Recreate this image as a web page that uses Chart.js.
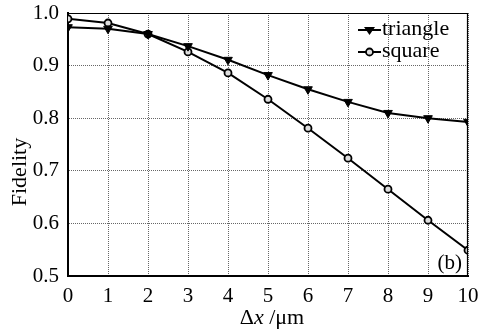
<!DOCTYPE html>
<html>
<head>
<meta charset="utf-8">
<script src="https://cdn.jsdelivr.net/npm/chart.js@4"></script>
<style>
  html, body { margin: 0; padding: 0; background: #fff; }
  #wrap { width: 485px; height: 331px; }
</style>
</head>
<body>
<div id="wrap"><canvas id="c" width="485" height="331"></canvas></div>
<script>
// values
const xValues = [0, 1, 2, 3, 4, 5, 6, 7, 8, 9, 10];
const triangleValues = [0.973, 0.970, 0.960, 0.937, 0.911, 0.882, 0.855, 0.831, 0.810, 0.800, 0.793];
const squareValues = [0.989, 0.981, 0.960, 0.926, 0.886, 0.836, 0.781, 0.724, 0.665, 0.606, 0.549];
const seriesNames = ["triangle", "square"];

const serif = "'Liberation Serif', 'DejaVu Serif', serif";

function toPoints(vals) {
  return xValues.map((x, i) => ({ x: x, y: vals[i] }));
}

// frame, legend, axis titles and "(b)"
const extras = {
  id: "extras",
  afterDraw(chart) {
    const ctx = chart.ctx;
    const a = chart.chartArea;
    ctx.save();
    // thin top / right frame
    ctx.strokeStyle = "#000";
    ctx.lineWidth = 1.2;
    ctx.beginPath();
    ctx.moveTo(a.left, a.top + 0.5);
    ctx.lineTo(a.right - 0.5, a.top + 0.5);
    ctx.lineTo(a.right - 0.5, a.bottom);
    ctx.stroke();

    // legend
    ctx.font = "22px " + serif;
    ctx.textBaseline = "middle";
    ctx.fillStyle = "#000";
    const rows = [{ y: 30, style: "tri" }, { y: 52, style: "circ" }];
    rows.forEach((r, i) => {
      ctx.lineWidth = 2;
      ctx.beginPath();
      ctx.moveTo(358, r.y);
      ctx.lineTo(381, r.y);
      ctx.stroke();
      if (r.style === "tri") {
        ctx.beginPath();
        ctx.moveTo(364, r.y - 3);
        ctx.lineTo(375, r.y - 3);
        ctx.lineTo(369.5, r.y + 5);
        ctx.closePath();
        ctx.fill();
      } else {
        ctx.beginPath();
        ctx.arc(369.5, r.y, 3.5, 0, Math.PI * 2);
        ctx.fillStyle = "#ddd";
        ctx.fill();
        ctx.lineWidth = 1.8;
        ctx.stroke();
        ctx.fillStyle = "#000";
      }
      ctx.fillText(seriesNames[i], 382, r.y - 1);
    });

    // panel label
    ctx.font = "21px " + serif;
    ctx.textAlign = "right";
    ctx.fillText("(b)", a.right - 6, a.bottom - 13);

    // y axis title
    ctx.save();
    ctx.translate(20, 172);
    ctx.rotate(-Math.PI / 2);
    ctx.textAlign = "center";
    ctx.font = "22px " + serif;
    ctx.fillText("Fidelity", 0, 0);
    ctx.restore();

    // x axis title: Δx /μm with italic x
    ctx.textAlign = "left";
    ctx.textBaseline = "alphabetic";
    const parts = [
      { t: "\u0394", f: "22px " + serif },
      { t: "x", f: "italic 22px " + serif },
      { t: " /\u03bcm", f: "22px " + serif }
    ];
    let w = 0;
    parts.forEach(p => { ctx.font = p.f; w += ctx.measureText(p.t).width; });
    let xp = 272 - w / 2;
    parts.forEach(p => {
      ctx.font = p.f;
      ctx.fillText(p.t, xp, 324);
      xp += ctx.measureText(p.t).width;
    });
    ctx.restore();
  }
};

new Chart(document.getElementById("c"), {
  type: "line",
  data: {
    datasets: [
      {
        label: seriesNames[0],
        data: toPoints(triangleValues),
        borderColor: "#000",
        backgroundColor: "#000",
        borderWidth: 2,
        pointStyle: "triangle",
        rotation: 180,
        pointRadius: 5,
        pointBorderWidth: 1,
        tension: 0
      },
      {
        label: seriesNames[1],
        data: toPoints(squareValues),
        borderColor: "#000",
        backgroundColor: "#ddd",
        borderWidth: 2,
        pointStyle: "circle",
        pointRadius: 3.5,
        pointBorderWidth: 1.8,
        tension: 0
      }
    ]
  },
  options: {
    responsive: false,
    animation: false,
    layout: { padding: { left: 0, right: 17, top: 13, bottom: 0 } },
    plugins: {
      legend: { display: false },
      tooltip: { enabled: false }
    },
    scales: {
      x: {
        type: "linear",
        min: 0,
        max: 10,
        ticks: { stepSize: 1, color: "#000", padding: 8, font: { family: serif, size: 21 } },
        grid: { color: "#666", lineWidth: 1, drawTicks: false },
        border: { color: "#000", width: 2, dash: [1, 1] },
        afterFit(s) { s.height = 55; s.paddingLeft = 0; s.paddingRight = 0; }
      },
      y: {
        min: 0.5,
        max: 1.0,
        ticks: {
          stepSize: 0.1,
          color: "#000",
          padding: 9,
          font: { family: serif, size: 21 },
          callback: v => v.toFixed(1)
        },
        grid: { color: "#666", lineWidth: 1, drawTicks: false },
        border: { color: "#000", width: 2, dash: [1, 1] },
        afterFit(s) { s.width = 68; s.paddingTop = 0; s.paddingBottom = 0; }
      }
    }
  },
  plugins: [extras]
});
</script>
</body>
</html>
